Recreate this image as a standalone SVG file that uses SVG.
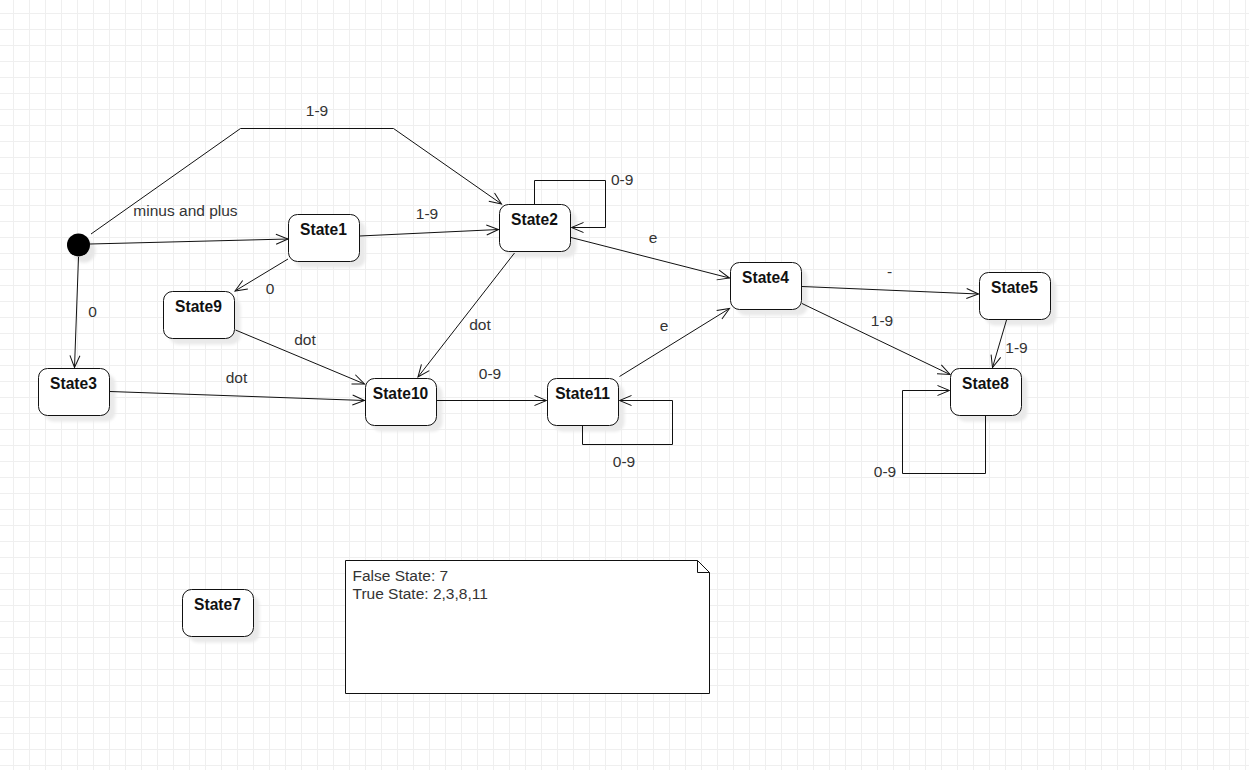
<svg xmlns="http://www.w3.org/2000/svg" width="1249" height="770" viewBox="0 0 1249 770">
  <defs>
    <pattern id="grid" x="13" y="13" width="16" height="16" patternUnits="userSpaceOnUse">
      <path d="M0.5,0 V16 M0,0.5 H16" stroke="#efefef" stroke-width="1" fill="none"/>
    </pattern>
    <filter id="soft" x="-20%" y="-20%" width="140%" height="140%">
      <feGaussianBlur stdDeviation="1.5"/>
    </filter>
    <marker id="open" viewBox="-14 -7 16 14" refX="0" refY="0" markerWidth="16" markerHeight="14" markerUnits="userSpaceOnUse" orient="auto">
      <path d="M-12,-5 L0,0 L-12,5" fill="none" stroke="#111" stroke-width="1"/>
    </marker>
    <!-- state box shape, placed at each node position -->
    <rect id="box" x="0.5" y="0.5" width="71" height="47" rx="9" ry="9"/>
  </defs>
  <style>
    .shadow { fill: #e9e9e9; filter: url(#soft); }
    .state { fill: #ffffff; stroke: #111; stroke-width: 1; }
    .name { font-family: "Liberation Sans", Arial, sans-serif; font-size: 15.6px; font-weight: bold; fill: #111; text-anchor: middle; }
    .lbl { font-family: "Liberation Sans", Arial, sans-serif; font-size: 15.5px; fill: #333; text-anchor: middle; }
    .note { font-family: "Liberation Sans", Arial, sans-serif; font-size: 15.5px; fill: #333; }
    .edge { fill: none; stroke: #111; stroke-width: 1; marker-end: url(#open); }
  </style>

  <rect width="1249" height="770" fill="#ffffff"/>
  <rect width="1249" height="770" fill="url(#grid)"/>

  <!-- initial pseudo-state -->
  <g id="start">
    <circle cx="84" cy="251" r="11.5" fill="#e6e6e6" filter="url(#soft)"/>
    <circle cx="78.5" cy="245" r="11.5" fill="#000"/>
  </g>

  <!-- states -->
  <g id="state1" transform="translate(288,214)">
    <use href="#box" class="shadow" x="6" y="6"/>
    <use href="#box" class="state"/>
    <text class="name" x="35.5" y="20.5">State1</text>
  </g>
  <g id="state2" transform="translate(499,204)">
    <use href="#box" class="shadow" x="6" y="6"/>
    <use href="#box" class="state"/>
    <text class="name" x="35.5" y="20.5">State2</text>
  </g>
  <g id="state9" transform="translate(163,291)">
    <use href="#box" class="shadow" x="6" y="6"/>
    <use href="#box" class="state"/>
    <text class="name" x="35.5" y="20.5">State9</text>
  </g>
  <g id="state3" transform="translate(38,368)">
    <use href="#box" class="shadow" x="6" y="6"/>
    <use href="#box" class="state"/>
    <text class="name" x="35.5" y="20.5">State3</text>
  </g>
  <g id="state10" transform="translate(365,378)">
    <use href="#box" class="shadow" x="6" y="6"/>
    <use href="#box" class="state"/>
    <text class="name" x="35.5" y="20.5">State10</text>
  </g>
  <g id="state11" transform="translate(547,378)">
    <use href="#box" class="shadow" x="6" y="6"/>
    <use href="#box" class="state"/>
    <text class="name" x="35.5" y="20.5">State11</text>
  </g>
  <g id="state4" transform="translate(730,262)">
    <use href="#box" class="shadow" x="6" y="6"/>
    <use href="#box" class="state"/>
    <text class="name" x="35.5" y="20.5">State4</text>
  </g>
  <g id="state5" transform="translate(979,272)">
    <use href="#box" class="shadow" x="6" y="6"/>
    <use href="#box" class="state"/>
    <text class="name" x="35.5" y="20.5">State5</text>
  </g>
  <g id="state8" transform="translate(950,368)">
    <use href="#box" class="shadow" x="6" y="6"/>
    <use href="#box" class="state"/>
    <text class="name" x="35.5" y="20.5">State8</text>
  </g>
  <g id="state7" transform="translate(182,589)">
    <use href="#box" class="shadow" x="6" y="6"/>
    <use href="#box" class="state"/>
    <text class="name" x="35.5" y="20.5">State7</text>
  </g>

  <!-- transitions -->
  <g id="connectors">
    <path class="edge" d="M91,234 L240.5,128.5 L393.5,128.5 L501.5,204"/>
    <path class="edge" d="M90,244 L288,239"/>
    <path class="edge" d="M78.5,257 L74.5,367.5"/>
    <path class="edge" d="M359.5,236 L498.5,229.5"/>
    <path class="edge" d="M288,259 L235,291"/>
    <path class="edge" d="M235.5,330 L364.5,384"/>
    <path class="edge" d="M110,391.5 L364.5,400.5"/>
    <path class="edge" d="M514.5,253 L418,377"/>
    <path class="edge" d="M571,237.5 L729.5,278"/>
    <path class="edge" d="M619.5,376.5 L729.5,308.5"/>
    <path class="edge" d="M437,400.5 L546.5,400.5"/>
    <path class="edge" d="M534.5,204 V180.5 H605.5 V227.5 H571.5"/>
    <path class="edge" d="M582.5,425.5 V444.5 H672.5 V400.5 H619.5"/>
    <path class="edge" d="M802,286.5 L978.5,294"/>
    <path class="edge" d="M802,303.5 L950,374.5"/>
    <path class="edge" d="M1006.5,320 L992.5,367.5"/>
    <path class="edge" d="M985.5,415.5 V473.5 H902.5 V390.5 H949.5"/>
  </g>

  <!-- transition labels -->
  <g id="labels">
    <text class="lbl" x="317" y="115.5">1-9</text>
    <text class="lbl" x="185.5" y="215.5">minus and plus</text>
    <text class="lbl" x="427" y="219">1-9</text>
    <text class="lbl" x="611" y="185" style="text-anchor:start">0-9</text>
    <text class="lbl" x="653" y="242.5">e</text>
    <text class="lbl" x="270" y="294">0</text>
    <text class="lbl" x="92.5" y="316.5">0</text>
    <text class="lbl" x="305" y="345">dot</text>
    <text class="lbl" x="236.5" y="383">dot</text>
    <text class="lbl" x="480" y="330">dot</text>
    <text class="lbl" x="664" y="331">e</text>
    <text class="lbl" x="490" y="379">0-9</text>
    <text class="lbl" x="624" y="466.5">0-9</text>
    <text class="lbl" x="889.5" y="276.5">-</text>
    <text class="lbl" x="882" y="326">1-9</text>
    <text class="lbl" x="1016.5" y="353">1-9</text>
    <text class="lbl" x="885" y="477">0-9</text>
  </g>

  <!-- note with folded corner -->
  <g id="note">
    <path d="M345.5,560.5 H697.5 L709.5,572.5 V693.5 H345.5 Z" fill="#ffffff" stroke="#111" stroke-width="1"/>
    <path d="M697.5,560.5 V572.5 H709.5" fill="none" stroke="#111" stroke-width="1"/>
    <text class="note" x="352.5" y="580.5">False State: 7</text>
    <text class="note" x="352.5" y="598.5">True State: 2,3,8,11</text>
  </g>
</svg>
